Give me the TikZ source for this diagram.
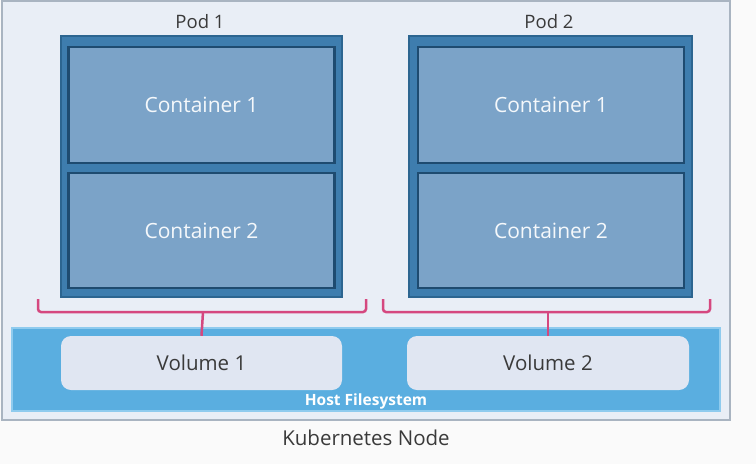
\documentclass[tikz,border=0pt]{standalone}
\usepackage{fontspec}
\setmainfont{Open Sans}
\usepackage{tikz}

\definecolor{nodebg}{HTML}{E9EEF6}
\definecolor{nodeline}{HTML}{A9B4C1}
\definecolor{podfill}{HTML}{3E7DAE}
\definecolor{podline}{HTML}{2C6590}
\definecolor{ctrfill}{HTML}{7BA3C8}
\definecolor{ctrline}{HTML}{1E4B70}
\definecolor{hostfill}{HTML}{5AAEE0}
\definecolor{hostline}{HTML}{8FCBEE}
\definecolor{volfill}{HTML}{E0E6F2}
\definecolor{linkpink}{HTML}{D5487F}
\definecolor{txtdark}{HTML}{3A3A3A}

\tikzset{
  pod/.style={draw=podline, line width=2pt, fill=podfill, inner sep=0pt,
    minimum width=281pt, minimum height=261pt},
  container/.style={draw=ctrline, line width=2.5pt, fill=ctrfill, inner sep=0pt,
    minimum width=266pt, minimum height=115pt, text=white!92!ctrfill,
    font=\fontsize{21}{25}\selectfont},
  volume/.style={fill=volfill, rounded corners=10pt, inner sep=0pt,
    minimum width=281pt, minimum height=54pt, text=txtdark,
    font=\fontsize{20.5}{24}\selectfont},
  label/.style={text=txtdark, font=\fontsize{20.5}{24}\selectfont},
  bracket/.style={draw=linkpink, line width=2.5pt, rounded corners=3pt}
}

\begin{document}
\begin{tikzpicture}[x=1pt, y=-1pt]
    \useasboundingbox (0,0) rectangle (756,464);
    \fill[white!98!black] (0,0) rectangle (756,464);

    % Kubernetes node
    \draw[draw=nodeline, line width=1.5pt, fill=nodebg] (2,1) rectangle (730,420);
    \node[label] (knode) at (366,438) {Kubernetes Node};

    % Host filesystem
    \node[draw=hostline, line width=1.5pt, fill=hostfill, inner sep=0pt,
      minimum width=708pt, minimum height=83pt] (host) at (366,369.5) {};
    \node[text=white, font=\bfseries\fontsize{15.5}{18}\selectfont] (hostlbl) at (366,401) {Host Filesystem};

    % Pods
    \node[pod] (pod1) at (201.5,166.5) {};
    \node[pod, minimum width=283pt] (pod2) at (550.5,166.5) {};
    \node[label, font=\fontsize{18.5}{22}\selectfont] (pod1lbl) at (200,22) {Pod 1};
    \node[label, font=\fontsize{18.5}{22}\selectfont] (pod2lbl) at (549,22) {Pod 2};

    % Containers
    \node[container, minimum height=116pt] (c11) at (201.5,105) {Container 1};
    \node[container] (c12) at (201.5,230.5) {Container 2};
    \node[container, minimum height=116pt] (c21) at (551,105) {Container 1};
    \node[container] (c22) at (551,230.5) {Container 2};

    % Volumes
    \node[volume] (vol1) at (201.5,363) {Volume 1};
    \node[volume, minimum width=282pt] (vol2) at (548,363) {Volume 2};

    % Mounts
    \coordinate (br1) at (203,312);
    \coordinate (br2) at (548,312);
    \draw[bracket] (38,299) -- (38,312) -- (366,312) -- (366,299);
    \draw[bracket] (383,299) -- (383,312) -- (710,312) -- (710,299);
    \draw[linkpink, line width=2.5pt] (br1) -- (vol1.north);
    \draw[linkpink, line width=2.5pt] (br2) -- (vol2.north);
\end{tikzpicture}
\end{document}
